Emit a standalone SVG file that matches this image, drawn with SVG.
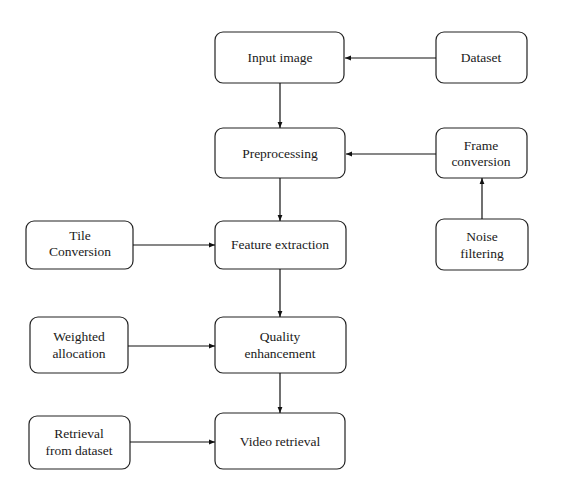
<svg xmlns="http://www.w3.org/2000/svg" width="572" height="490" viewBox="0 0 572 490">
<defs>
<marker id="ah" viewBox="0 0 10 10" refX="10" refY="5" markerWidth="6" markerHeight="6" markerUnits="userSpaceOnUse" orient="auto">
<path d="M0,1 L10,5 L0,9 z" fill="#111"/>
</marker>
<style>
.box{fill:#fff;stroke:#222;stroke-width:1.2}
.t{font-size:13.5px;fill:#1a1a1a;text-anchor:middle}
.c{stroke:#111;stroke-width:1.2;fill:none;marker-end:url(#ah)}
</style>
</defs>
<rect width="572" height="490" fill="#fff"/>
<g font-family="Liberation Serif, Times New Roman, serif">
<g id="input-image"><rect class="box" x="215" y="32" width="129" height="51" rx="8"/><text class="t" x="280" y="62">Input image</text></g>
<g id="dataset"><rect class="box" x="436" y="32" width="91" height="51" rx="8"/><text class="t" x="481" y="62">Dataset</text></g>
<g id="preprocessing"><rect class="box" x="215" y="128" width="130" height="50" rx="8"/><text class="t" x="280" y="158">Preprocessing</text></g>
<g id="frame-conversion"><rect class="box" x="436" y="128" width="91" height="50" rx="8"/><text class="t" x="481" y="150">Frame</text><text class="t" x="481" y="166">conversion</text></g>
<g id="noise-filtering"><rect class="box" x="436" y="219" width="92" height="51" rx="8"/><text class="t" x="482" y="241">Noise</text><text class="t" x="482" y="258">filtering</text></g>
<g id="tile-conversion"><rect class="box" x="26" y="221" width="107" height="48" rx="8"/><text class="t" x="80" y="240">Tile</text><text class="t" x="80" y="256">Conversion</text></g>
<g id="feature-extraction"><rect class="box" x="215" y="221" width="131" height="48" rx="8"/><text class="t" x="280" y="249">Feature  extraction</text></g>
<g id="weighted-allocation"><rect class="box" x="30" y="317" width="98" height="56" rx="8"/><text class="t" x="79" y="341">Weighted</text><text class="t" x="79" y="358">allocation</text></g>
<g id="quality-enhancement"><rect class="box" x="215" y="317" width="131" height="56" rx="8"/><text class="t" x="280" y="341">Quality</text><text class="t" x="280" y="358">enhancement</text></g>
<g id="retrieval-from-dataset"><rect class="box" x="29" y="416" width="101" height="53" rx="8"/><text class="t" x="79" y="438">Retrieval</text><text class="t" x="79" y="455">from dataset</text></g>
<g id="video-retrieval"><rect class="box" x="215" y="413" width="130" height="56" rx="8"/><text class="t" x="280" y="446">Video retrieval</text></g>
</g>
<g id="connectors">
<line class="c" x1="436" y1="58" x2="345" y2="58"/>
<line class="c" x1="280" y1="83" x2="280" y2="128"/>
<line class="c" x1="436" y1="154" x2="346" y2="154"/>
<line class="c" x1="482" y1="219" x2="482" y2="178"/>
<line class="c" x1="280" y1="178" x2="280" y2="221"/>
<line class="c" x1="133" y1="245" x2="215" y2="245"/>
<line class="c" x1="280" y1="269" x2="280" y2="317"/>
<line class="c" x1="128" y1="346" x2="215" y2="346"/>
<line class="c" x1="280" y1="373" x2="280" y2="413"/>
<line class="c" x1="130" y1="442" x2="215" y2="442"/>
</g>
</svg>
